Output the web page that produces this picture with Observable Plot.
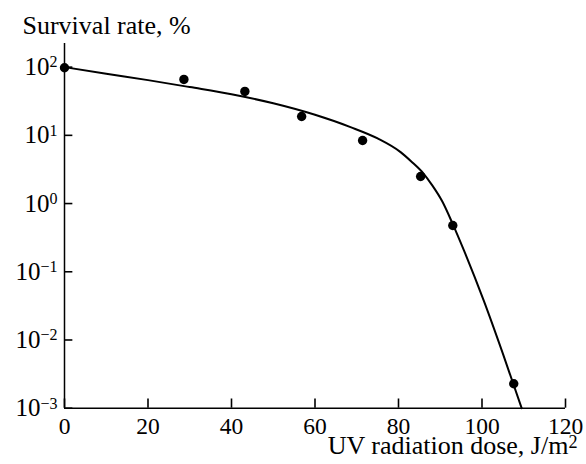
<!DOCTYPE html>
<html>
<head>
<meta charset="utf-8">
<script src="https://cdn.jsdelivr.net/npm/d3@7"></script>
<script src="https://cdn.jsdelivr.net/npm/@observablehq/plot@0.6"></script>
<style>
  body { margin: 0; background: #fff; }
  #chart svg { display: block; }
</style>
</head>
<body>
<div id="chart"></div>
<script>
// Measured data points (UV dose in J/m^2, survival rate in %)
const doseData = [0, 28.6, 43.2, 56.8, 71.4, 85.3, 93.0, 107.6];
const survivalData = [98, 66, 44, 18.9, 8.4, 2.49, 0.477, 0.00228];

// Fitted curve
const fitDose = [0, 10, 20, 30, 40, 50, 60, 68.5, 75, 80.5, 83, 86, 88, 90.5, 93, 95.7, 100.4, 105, 109.5];
const fitSurvival = [100, 80, 64.5, 51, 40, 29.5, 20, 13.2, 9.0, 5.67, 4.17, 2.75, 1.88, 1.07, 0.5, 0.204, 0.038, 0.0063, 0.001];

// Axis ticks and labels
const xTicks = [0, 20, 40, 60, 80, 100, 120];
const yTicks = [100, 10, 1, 0.1, 0.01, 0.001];
const yTickLabels = ["10^2", "10^1", "10^0", "10^\u22121", "10^\u22122", "10^\u22123"];
const xTitle = "UV radiation dose, J/m~2";
const yTitle = "Survival rate, %";

const points = doseData.map((d, i) => ({dose: d, survival: survivalData[i]}));
const fit = fitDose.map((d, i) => ({dose: d, survival: fitSurvival[i]}));

const yMin = 0.001, xMin = 0;
const xTickLenDecades = 0.135; // inward tick length along the log axis
const yTickLenDose = 2.0;      // inward tick length along the dose axis

const chart = Plot.plot({
  width: 586,
  height: 464,
  marginLeft: 64,
  marginRight: 21,
  marginTop: 43,
  marginBottom: 56.3,
  style: {fontFamily: "'Liberation Serif', 'Times New Roman', serif", fontSize: "25px", color: "black", background: "white"},
  x: {domain: [0, 120]},
  y: {type: "log", domain: [0.001, 222]},
  marks: [
    Plot.ruleX([xMin], {stroke: "black", strokeWidth: 1.5}),
    Plot.ruleY([yMin], {stroke: "black", strokeWidth: 1.5}),
    // inward ticks
    Plot.ruleX(xTicks, {x: d => d, y1: yMin, y2: yMin * Math.pow(10, xTickLenDecades), stroke: "black", strokeWidth: 1.6}),
    Plot.ruleY(yTicks, {y: d => d, x1: xMin, x2: xMin + yTickLenDose, stroke: "black", strokeWidth: 1.6}),
    // tick labels
    Plot.axisX({ticks: xTicks, tickSize: 0, tickPadding: 9, label: null, tickFormat: d => String(d), fontSize: 23.5}),
    Plot.axisY({ticks: yTicks, tickSize: 0, tickPadding: 7, label: null, tickFormat: d => yTickLabels[yTicks.indexOf(d)], fontSize: 25}),
    Plot.line(fit, {x: "dose", y: "survival", stroke: "black", strokeWidth: 2, curve: "monotone-x"}),
    Plot.dot(points, {x: "dose", y: "survival", r: 4.7, fill: "black", stroke: "none"}),
    Plot.text([yTitle], {text: d => d, frameAnchor: "top-left", dx: -42, dy: -9.7, textAnchor: "start", lineAnchor: "bottom", fontSize: 26}),
    Plot.text([xTitle], {text: d => d, frameAnchor: "bottom-right", dx: 12, dy: 45.8, textAnchor: "end", lineAnchor: "bottom", fontSize: 26})
  ]
});

// Turn "base^exp" (tick labels) and "base~exp" (axis title) into real superscript text
const svgns = "http://www.w3.org/2000/svg";
chart.querySelectorAll("text").forEach(t => {
  const s = t.textContent;
  const sep = s.includes("^") ? "^" : s.includes("~") ? "~" : null;
  if (sep) {
    const [base, exp] = s.split(sep);
    t.textContent = "";
    t.appendChild(document.createTextNode(base));
    const ts = document.createElementNS(svgns, "tspan");
    ts.setAttribute("dy", sep === "^" ? "-0.48em" : "-0.34em");
    ts.setAttribute("font-size", sep === "^" ? "0.64em" : "0.7em");
    ts.textContent = exp;
    t.appendChild(ts);
  }
});

document.getElementById("chart").appendChild(chart);
</script>
</body>
</html>
